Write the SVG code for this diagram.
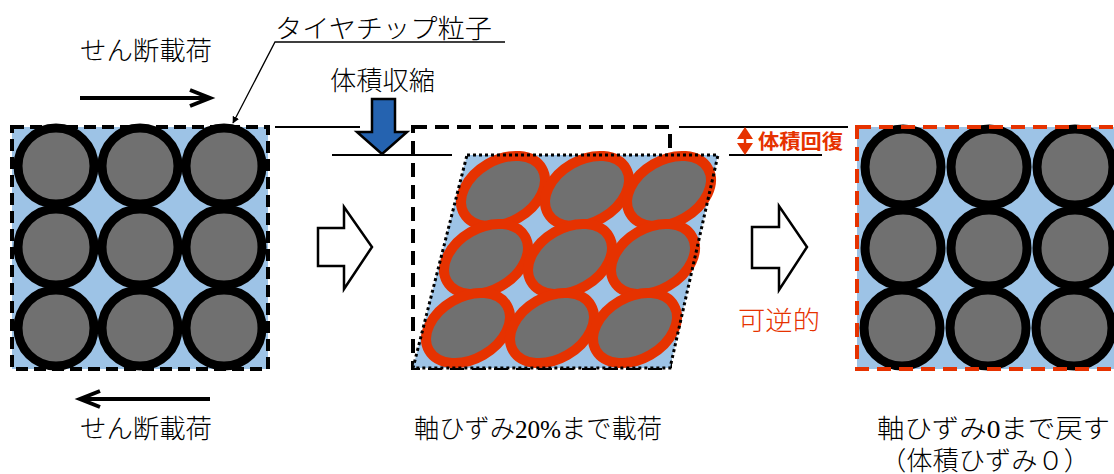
<svg xmlns="http://www.w3.org/2000/svg" width="1114" height="474" viewBox="0 0 1114 474">
<style>
  .t{font-family:"Liberation Serif","Noto Sans CJK JP",serif;font-size:26px;fill:#000;font-weight:300}
  .red{fill:#E63200}
  .c{fill:#707070;stroke:#000;stroke-width:9}
  .e{fill:#707070;stroke:#E63200;stroke-width:10}
  .ln{stroke:#000;stroke-width:2;fill:none}
  .bg{fill:#9DC3E6}
</style>
<defs>
  <marker id="tri" viewBox="0 0 10 10" refX="9" refY="5" markerWidth="7" markerHeight="7" orient="auto" markerUnits="userSpaceOnUse">
    <path d="M0,0 L10,5 L0,10 z" fill="#000"/>
  </marker>
</defs>

<g id="left-box">
  <rect x="12" y="127" width="256" height="242" class="bg"/>
  <circle cx="56" cy="166" r="38" class="c"/>
  <circle cx="140" cy="166" r="38" class="c"/>
  <circle cx="224" cy="166" r="38" class="c"/>
  <circle cx="56" cy="247" r="38" class="c"/>
  <circle cx="140" cy="247" r="38" class="c"/>
  <circle cx="224" cy="247" r="38" class="c"/>
  <circle cx="56" cy="328" r="38" class="c"/>
  <circle cx="140" cy="328" r="38" class="c"/>
  <circle cx="224" cy="328" r="38" class="c"/>
  <rect x="12" y="127" width="256" height="242" fill="none" stroke="#000" stroke-width="4" stroke-dasharray="12,6"/>
</g>

<g id="middle-box">
  <rect x="413" y="127" width="257" height="241" fill="none" stroke="#000" stroke-width="4" stroke-dasharray="14,8"/>
  <polygon points="467,155 718,155 670,368 413,368" class="bg"/>
  <g>
    <ellipse cx="503" cy="191" rx="45" ry="31" transform="rotate(-30 503 191)" class="e"/>
    <ellipse cx="587" cy="191" rx="45" ry="31" transform="rotate(-30 587 191)" class="e"/>
    <ellipse cx="669" cy="191" rx="45" ry="31" transform="rotate(-30 669 191)" class="e"/>
    <ellipse cx="486" cy="259" rx="45" ry="31" transform="rotate(-30 486 259)" class="e"/>
    <ellipse cx="570" cy="259" rx="45" ry="31" transform="rotate(-30 570 259)" class="e"/>
    <ellipse cx="653" cy="259" rx="45" ry="31" transform="rotate(-30 653 259)" class="e"/>
    <ellipse cx="468" cy="328" rx="45" ry="31" transform="rotate(-30 468 328)" class="e"/>
    <ellipse cx="552" cy="328" rx="45" ry="31" transform="rotate(-30 552 328)" class="e"/>
    <ellipse cx="635" cy="328" rx="45" ry="31" transform="rotate(-30 635 328)" class="e"/>
  </g>
  <polygon points="467,155 718,155 670,368 413,368" fill="none" stroke="#000" stroke-width="3" stroke-dasharray="3,3"/>
</g>

<g id="right-box">
  <rect x="857" y="127" width="270" height="242" class="bg"/>
  <circle cx="903" cy="167" r="38" class="c"/>
  <circle cx="989" cy="167" r="38" class="c"/>
  <circle cx="1075" cy="167" r="38" class="c"/>
  <circle cx="903" cy="248" r="38" class="c"/>
  <circle cx="989" cy="248" r="38" class="c"/>
  <circle cx="1075" cy="248" r="38" class="c"/>
  <circle cx="902" cy="328" r="38" class="c"/>
  <circle cx="988" cy="328" r="38" class="c"/>
  <circle cx="1074" cy="328" r="38" class="c"/>
  <rect x="857" y="127" width="270" height="242" fill="none" stroke="#E63200" stroke-width="4" stroke-dasharray="14,8"/>
</g>

<g id="connectors">
  <line x1="80" y1="98" x2="210" y2="98" stroke="#000" stroke-width="4"/>
  <polyline points="190,90 210,98 190,106" fill="none" stroke="#000" stroke-width="4"/>
  <line x1="80" y1="399" x2="210" y2="399" stroke="#000" stroke-width="4"/>
  <polyline points="100,391 80,399 100,407" fill="none" stroke="#000" stroke-width="4"/>
  <polyline points="505,42 275,42 233,123" fill="none" stroke="#000" stroke-width="1.3" marker-end="url(#tri)"/>
  <line x1="275" y1="127" x2="360" y2="127" class="ln"/>
  <line x1="332" y1="155" x2="452" y2="155" class="ln"/>
  <line x1="679" y1="127" x2="848" y2="127" class="ln"/>
  <line x1="729" y1="155" x2="822" y2="155" class="ln"/>
  <line x1="745" y1="137" x2="745" y2="145" stroke="#E63200" stroke-width="2.5"/>
  <polygon points="745,127 737,139 753,139" fill="#E63200"/>
  <polygon points="745,155 737,143 753,143" fill="#E63200"/>
  <polygon points="372,99 395,99 395,132 407,132 382,154 357,132 372,132" fill="#2563B0" stroke="#000" stroke-width="2.5"/>
  <polygon points="318,228 344,228 344,207 372,247 344,289 344,266 318,266" fill="#fff" stroke="#000" stroke-width="2.5"/>
  <polygon points="752,227 779,227 779,206 807,247 779,290 779,268 752,268" fill="#fff" stroke="#000" stroke-width="2.5"/>
</g>

<g id="labels">
  <text class="t" x="275" y="38" textLength="217" lengthAdjust="spacingAndGlyphs">タイヤチップ粒子</text>
  <text class="t" x="80" y="60" textLength="132" lengthAdjust="spacingAndGlyphs">せん断載荷</text>
  <text class="t" x="330" y="90" textLength="105" lengthAdjust="spacingAndGlyphs">体積収縮</text>
  <text class="t red" x="758" y="149" style="font-size:20px;font-weight:700" textLength="85" lengthAdjust="spacingAndGlyphs">体積回復</text>
  <text class="t red" x="738" y="330" textLength="82" lengthAdjust="spacingAndGlyphs">可逆的</text>
  <text class="t" x="80" y="438" textLength="132" lengthAdjust="spacingAndGlyphs">せん断載荷</text>
  <text class="t" x="414" y="438" textLength="248" lengthAdjust="spacingAndGlyphs">軸ひずみ20%まで載荷</text>
  <text class="t" x="877" y="438" textLength="233" lengthAdjust="spacingAndGlyphs">軸ひずみ0まで戻す</text>
  <text class="t" x="880" y="470" textLength="210" lengthAdjust="spacingAndGlyphs">（体積ひずみ０）</text>
</g>
</svg>
